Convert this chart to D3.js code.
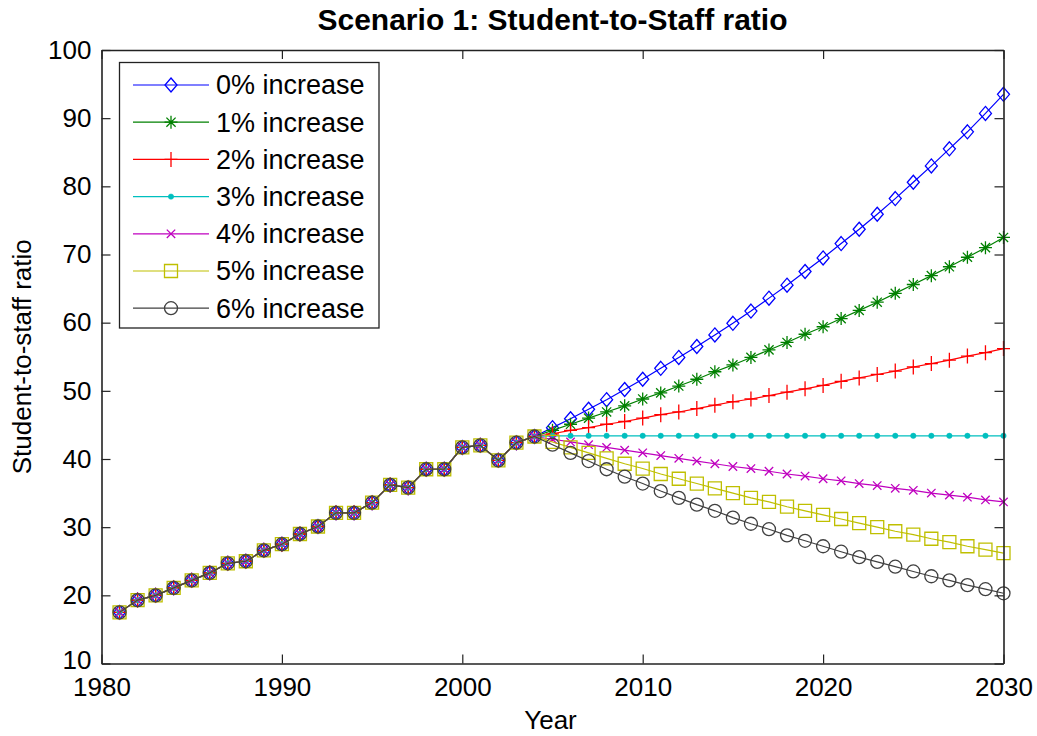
<!DOCTYPE html>
<html>
<head>
<meta charset="utf-8">
<script src="https://cdn.jsdelivr.net/npm/d3@7"></script>
<style>
  html, body { margin: 0; padding: 0; background: #ffffff; }
  svg { display: block; }
  text { font-family: Arial, "Liberation Sans", Helvetica, sans-serif; fill: #000; }
</style>
</head>
<body>
<svg id="chart" width="1037" height="736"></svg>
<script>
// ---------- DATA ----------
const chartTitle = "Scenario 1: Student-to-Staff ratio";
const xLabel = "Year";
const yLabel = "Student-to-staff ratio";

const historyYears = [1981,1982,1983,1984,1985,1986,1987,1988,1989,1990,1991,1992,
                      1993,1994,1995,1996,1997,1998,1999,2000,2001,2002,2003,2004];
const historyValues = [17.5,19.3,20.0,21.1,22.2,23.3,24.7,25.0,26.6,27.5,29.0,30.1,
                       32.1,32.1,33.6,36.2,35.8,38.5,38.5,41.7,42.0,39.8,42.4,43.3];

const projectionYears = [2005,2006,2007,2008,2009,2010,2011,2012,2013,2014,2015,2016,2017,
                         2018,2019,2020,2021,2022,2023,2024,2025,2026,2027,2028,2029,2030];

const seriesNames = ["0% increase","1% increase","2% increase","3% increase",
                     "4% increase","5% increase","6% increase"];

const proj0 = [44.6,45.9,47.3,48.7,50.2,51.7,53.3,54.9,56.5,58.2,59.9,61.7,63.6,
               65.5,67.5,69.5,71.6,73.7,75.9,78.2,80.6,83.0,85.5,88.0,90.7,93.5];
const proj1 = [44.2,45.1,46.0,46.9,47.8,48.8,49.7,50.7,51.7,52.8,53.8,54.9,56.0,
               57.1,58.3,59.4,60.6,61.8,63.0,64.3,65.6,66.9,68.2,69.6,71.0,72.5];
const proj2 = [43.7,44.2,44.6,45.1,45.5,46.0,46.5,46.9,47.4,47.9,48.4,48.8,49.3,
               49.8,50.3,50.8,51.4,51.9,52.4,52.9,53.5,54.0,54.5,55.1,55.6,56.2];
const proj3 = [43.4,43.4,43.4,43.4,43.4,43.4,43.4,43.4,43.4,43.4,43.4,43.4,43.4,
               43.4,43.4,43.4,43.4,43.4,43.4,43.4,43.4,43.4,43.4,43.4,43.4,43.4];
const proj4 = [42.9,42.5,42.1,41.7,41.3,40.9,40.5,40.1,39.7,39.3,38.9,38.6,38.2,
               37.8,37.5,37.1,36.8,36.4,36.1,35.7,35.4,35.0,34.7,34.4,34.0,33.7];
const proj5 = [42.5,41.7,40.9,40.1,39.3,38.6,37.8,37.1,36.4,35.7,35.0,34.3,33.7,
               33.0,32.4,31.8,31.2,30.6,30.0,29.4,28.9,28.3,27.8,27.2,26.7,26.2];
const proj6 = [42.1,40.9,39.7,38.5,37.4,36.4,35.3,34.3,33.3,32.4,31.4,30.5,29.7,
               28.8,28.0,27.2,26.4,25.6,24.9,24.2,23.5,22.8,22.2,21.5,20.9,20.3];

const xTicks = [1980,1990,2000,2010,2020,2030];
const yTicks = [10,20,30,40,50,60,70,80,90,100];

// ---------- STYLE ----------
const colors = ["#0000ff","#008000","#ff0000","#00bfbf","#bf00bf","#bfbf00","#404040"];
const markers = ["diamond","asterisk","plus","dot","x","square","circle"];
const projections = [proj0,proj1,proj2,proj3,proj4,proj5,proj6];

const W = 1037, H = 736;
const plot = { left: 101.5, right: 1003.5, top: 50, bottom: 663.5 };

const svg = d3.select("#chart");
svg.append("rect").attr("width", W).attr("height", H).attr("fill", "#fff");

const x = d3.scaleLinear().domain([1980, 2030]).range([plot.left, plot.right]);
const y = d3.scaleLinear().domain([10, 100]).range([plot.bottom, plot.top]);

// full series
const series = projections.map((p, i) => ({
  name: seriesNames[i],
  color: colors[i],
  marker: markers[i],
  points: historyYears.map((yr, k) => [yr, historyValues[k]])
            .concat(projectionYears.map((yr, k) => [yr, p[k]]))
}));

function markerPath(type) {
  const p = d3.path();
  switch (type) {
    case "diamond":
      p.moveTo(0, -7); p.lineTo(6, 0); p.lineTo(0, 7); p.lineTo(-6, 0); p.closePath(); break;
    case "asterisk":
      p.moveTo(0, -6.5); p.lineTo(0, 6.5);
      p.moveTo(-6.5, 0); p.lineTo(6.5, 0);
      p.moveTo(-4.6, -4.6); p.lineTo(4.6, 4.6);
      p.moveTo(-4.6, 4.6); p.lineTo(4.6, -4.6); break;
    case "plus":
      p.moveTo(0, -7.5); p.lineTo(0, 7.5);
      p.moveTo(-6.5, 0); p.lineTo(6.5, 0); break;
    case "x":
      p.moveTo(-4.2, -4.2); p.lineTo(4.2, 4.2);
      p.moveTo(-4.2, 4.2); p.lineTo(4.2, -4.2); break;
    case "square":
      p.rect(-6.5, -6.5, 13, 13); break;
    case "circle":
      p.arc(0, 0, 6.5, 0, 2 * Math.PI); break;
    case "dot":
      p.arc(0, 0, 2.7, 0, 2 * Math.PI); break;
  }
  return p.toString();
}

function drawMarker(g, type, color) {
  g.append("path")
    .attr("d", markerPath(type))
    .attr("fill", type === "dot" ? color : "none")
    .attr("stroke", color)
    .attr("stroke-width", type === "dot" ? 0.5 : 1.3);
}

// ---------- SERIES ----------
const line = d3.line().x(d => x(d[0])).y(d => y(d[1]));
const seriesG = svg.append("g");
series.forEach(s => {
  const g = seriesG.append("g");
  g.append("path").datum(s.points)
    .attr("d", line).attr("fill", "none")
    .attr("stroke", s.color).attr("stroke-width", 1.2);
  s.points.forEach(pt => {
    const mg = g.append("g").attr("transform", `translate(${x(pt[0])},${y(pt[1])})`);
    drawMarker(mg, s.marker, s.color);
  });
});

// ---------- AXES ----------
const axisColor = "#222";
const fontSize = 26;

const gBottom = svg.append("g").attr("transform", `translate(0,${plot.bottom})`)
  .call(d3.axisBottom(x).tickValues(xTicks).tickFormat(d3.format("d"))
        .tickSizeInner(-9).tickSizeOuter(0).tickPadding(14));
const gTop = svg.append("g").attr("transform", `translate(0,${plot.top})`)
  .call(d3.axisTop(x).tickValues(xTicks).tickFormat("")
        .tickSizeInner(-9).tickSizeOuter(0));
const gLeft = svg.append("g").attr("transform", `translate(${plot.left},0)`)
  .call(d3.axisLeft(y).tickValues(yTicks).tickFormat(d3.format("d"))
        .tickSizeInner(-9).tickSizeOuter(0).tickPadding(10));
const gRight = svg.append("g").attr("transform", `translate(${plot.right},0)`)
  .call(d3.axisRight(y).tickValues(yTicks).tickFormat("")
        .tickSizeInner(-9).tickSizeOuter(0));

[gBottom, gTop, gLeft, gRight].forEach(g => {
  g.selectAll(".domain").attr("stroke", axisColor).attr("stroke-width", 1.6);
  g.selectAll(".tick line").attr("stroke", axisColor).attr("stroke-width", 1.2);
  g.selectAll(".tick text").attr("font-size", fontSize)
    .attr("font-family", "Arial, 'Liberation Sans', sans-serif").attr("fill", "#000");
});
// lift the lowest y label slightly, as in the reference
gLeft.selectAll(".tick text").filter(d => d === 10).attr("dy", "0.2em");

// ---------- TITLES ----------
svg.append("text").attr("x", (plot.left + plot.right) / 2).attr("y", 30)
  .attr("text-anchor", "middle").attr("font-size", 30).attr("font-weight", "bold")
  .text(chartTitle);

svg.append("text").attr("x", (plot.left + plot.right) / 2 - 2).attr("y", 729)
  .attr("text-anchor", "middle").attr("font-size", 26).text(xLabel);

svg.append("text")
  .attr("transform", `translate(31,${(plot.top + plot.bottom) / 2}) rotate(-90)`)
  .attr("text-anchor", "middle").attr("font-size", 26).text(yLabel);

// ---------- LEGEND ----------
const lg = svg.append("g");
lg.append("rect").attr("x", 119.5).attr("y", 62.5).attr("width", 259.5).attr("height", 265.5)
  .attr("fill", "#fff").attr("stroke", axisColor).attr("stroke-width", 1.3);
series.forEach((s, i) => {
  const cy = 85 + i * 37.2;
  const row = lg.append("g").attr("transform", `translate(0,${cy})`);
  row.append("line").attr("x1", 133).attr("x2", 209).attr("y1", 0).attr("y2", 0)
    .attr("stroke", s.color).attr("stroke-width", 1.2);
  const mg = row.append("g").attr("transform", "translate(171,0)");
  drawMarker(mg, s.marker, s.color);
  row.append("text").attr("x", 216).attr("y", 0).attr("dy", "0.35em")
    .attr("font-size", 27).text(s.name);
});
</script>
</body>
</html>
